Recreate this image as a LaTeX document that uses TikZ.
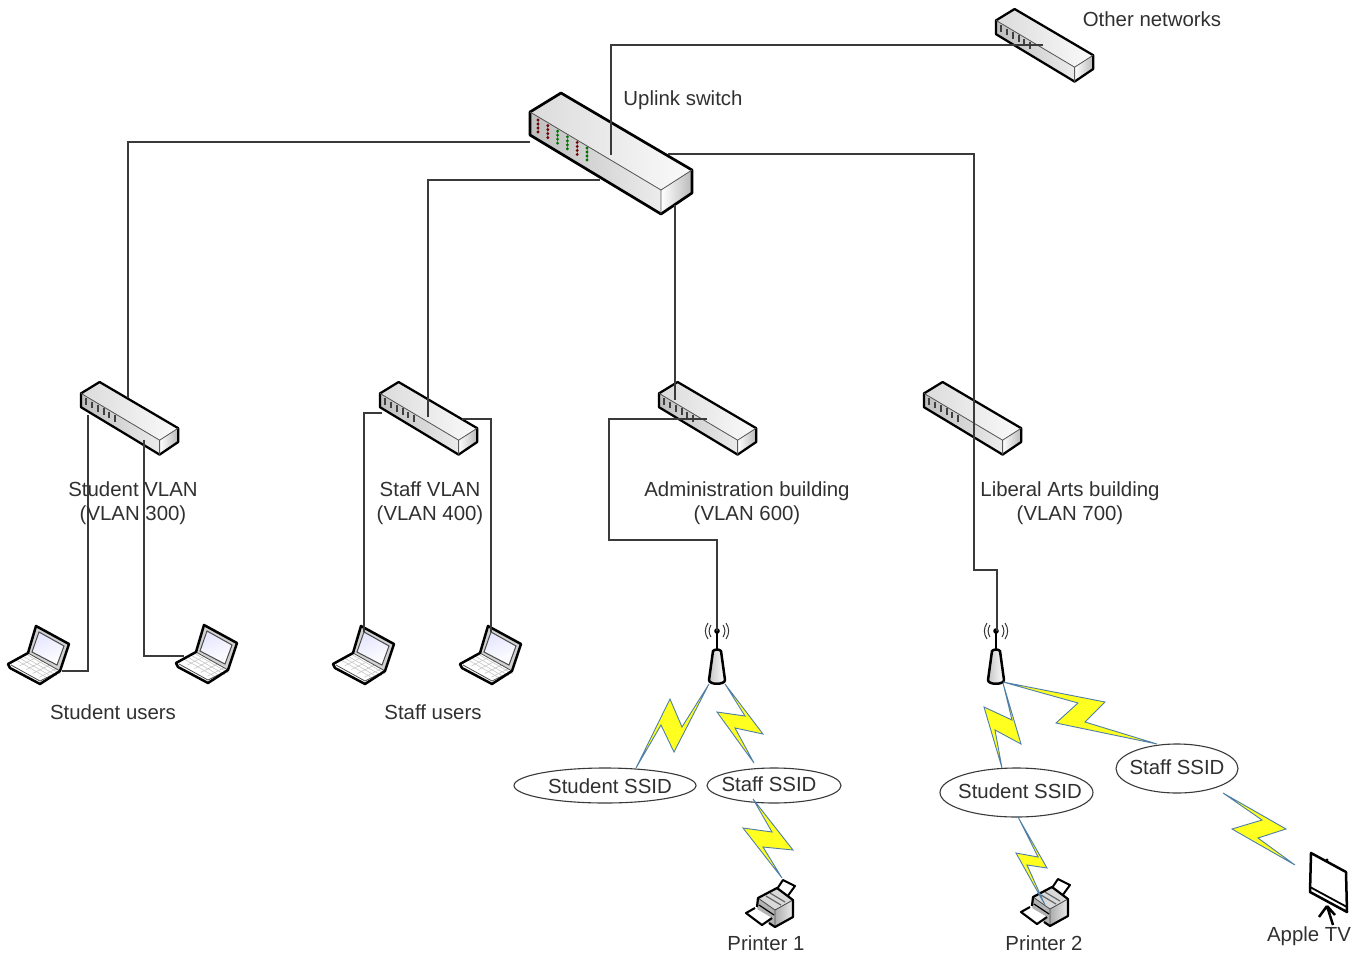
\documentclass[tikz,border=0pt]{standalone}
\usepackage{fontspec}
\setmainfont{Liberation Sans}
\usetikzlibrary{shapes.geometric,calc}
\definecolor{ink}{HTML}{3A3A3A}
\definecolor{txt}{HTML}{303030}
\definecolor{boltblue}{HTML}{4F7FA8}
\definecolor{boltyellow}{HTML}{FFFF20}
\tikzset{
  x=1pt,y=-1pt,
  link/.style={draw=ink,line width=1.25pt,line join=miter},
  lab/.style={font=\fontsize{20.4}{24}\selectfont,text=txt,align=center,inner sep=0pt},
  ssid/.style={draw=ink,line width=1.1pt,fill=white,ellipse,inner sep=0pt},
  boltstyle/.style={draw=boltblue,fill=boltyellow,line width=0.9pt,line join=miter},
  hw/.style={draw=black,line width=2.5pt,line join=round},
  hwthin/.style={draw=black!70,line width=.8pt},
}
\newcommand{\switchdev}[5]{% name, x, y, scale, colored(1)/dark(0)
  \begin{scope}[shift={(#2,#3)},x=#4pt,y=-#4pt]
    \fill[left color=gray!28,right color=gray!4] (0,19)--(31,0)--(162,77)--(131,97)--cycle;
    \fill[left color=gray!50,right color=gray!15] (0,19)--(131,97)--(131,121)--(0,42)--cycle;
    \fill[left color=white,right color=gray!55] (131,97)--(162,77)--(162,100)--(131,121)--cycle;
    \draw[hw,line width={1.6pt+1.1pt*#4}] (0,19)--(31,0)--(162,77)--(162,100)--(131,121)--(0,42)--cycle;
    \draw[draw=black!65,line width=.8pt] (0,19)--(131,97)--(162,77) (131,97)--(131,121);
    \ifnum#5=1
      \foreach \i/\c in {0/red!45!black,1/red!45!black,2/green!45!black,3/green!45!black,4/red!45!black,5/green!45!black}{
        \draw[black!45,line width=.8pt] ({8+\i*9.8},{27+\i*5.6})--++(0,12);
        \foreach \j in {0,4,8,12}
          \fill[\c] ({8+\i*9.8},{27+\i*5.6+\j}) circle (1.6);}
    \else
      \foreach \i in {0,...,5}
        \draw[black!75,line width=1.9pt] ({9+\i*9.6},{27+\i*5.6})--++(0,11);
    \fi
    \coordinate (#1) at (80,60);
  \end{scope}}
\newcommand{\laptopdev}[3]{%
  \begin{scope}[shift={(#2,#3)}]
    \fill[gray!35] (20,27)--(28,0)--(61,18)--(52,45)--cycle;
    \fill[left color=blue!10,right color=white,shading angle=20] (24,26)--(31,6)--(56,20)--(49,39)--cycle;
    \fill[white] (0,38)--(20,27)--(54,47)--(32,58)--cycle;
    \foreach \t in {.2,.4,.6,.8}{
      \draw[black!22,line width=.6pt] ($(5,36)!\t!(38,55)$)--($(23,27)!\t!(56,46)$);
      \draw[black!22,line width=.6pt] ($(5,36)!\t!(23,27)$)--($(38,55)!\t!(56,46)$);}
    \draw[hwthin,line width=1pt] (24,26)--(31,6)--(56,20)--(49,39)--cycle;
    \draw[black!70,line width=.8pt] (3,39)--(32,55)--(52,45) (20,27)--(52,45);
    \draw[hw] (20,27)--(28,0)--(61,18)--(52,45)--(32,58)--(2,42)--(0,38)--cycle;
    \coordinate (#1) at (30,35);
  \end{scope}}
\newcommand{\printerdev}[3]{%
  \begin{scope}[shift={(#2,#3)}]
    \fill[white] (30,12)--(38,0)--(50,6)--(42,17)--cycle;
    \draw[hw,line width=2pt] (30,12)--(38,0)--(50,6)--(42,17);
    \fill[gray!30] (13,18)--(32,8)--(48,20)--(30,30)--cycle;
    \fill[gray!60] (13,18)--(30,30)--(30,47)--(12,35)--cycle;
    \fill[left color=gray!65,right color=gray!15] (30,30)--(48,20)--(48,37)--(30,47)--cycle;
    \draw[black!60,line width=1.2pt] (21,16)--(36,25) (25,13)--(40,22);
    \draw[hwthin] (13,18)--(30,30)--(48,20) (30,30)--(30,47);
    \draw[black,line width=1.2pt] (14,25)--(29,35);
    \fill[white] (1,33)--(10,28)--(27,38)--(17,45)--cycle;
    \draw[hw,line width=2.1pt] (10,28)--(1,33)--(17,45)--(27,38);
    \draw[hw,line width=2.2pt] (12,27)--(13,18)--(32,8)--(48,20)--(48,37)--(30,47)--(24,43);
    \coordinate (#1) at (30,0);
  \end{scope}}
\newcommand{\apdev}[3]{%
  \begin{scope}[shift={(#2,#3)}]
    \draw[black!80,line width=1pt]
      (-6,-6) .. controls (-8.5,-2) and (-8.5,2) .. (-6,6)
      (6,-6) .. controls (8.5,-2) and (8.5,2) .. (6,6)
      (-9,-8) .. controls (-12.5,-3) and (-12.5,3) .. (-9,8)
      (9,-8) .. controls (12.5,-3) and (12.5,3) .. (9,8);
    \draw[black,line width=1.8pt] (0,0)--(0,19);
    \fill[black] (0,0) circle (2.8);
    \fill[left color=gray!45,right color=white] (-4,19)--(4,19)--(8,50)--(-8,50)--cycle;
    \draw[hw] (-4,20) .. controls (-2,18) and (2,18) .. (4,20)--(8,49)
      .. controls (8,54) and (-8,54) .. (-8,49)--cycle;
    \coordinate (#1) at (0,54);
  \end{scope}}
\newcommand{\boltlink}[6]{\draw[boltstyle] (#1)--(#2)--(#3)--(#4)--(#5)--(#6)--cycle;}
\begin{document}
\begin{tikzpicture}
\useasboundingbox (0,0) rectangle (1361,954);
\coordinate (up1) at (611,155);
\coordinate (up2) at (1043,45);
\coordinate (s1a) at (530,142);
\coordinate (s1b) at (128,398);
\coordinate (s2a) at (600,180);
\coordinate (s2b) at (428,417);
\coordinate (s3a) at (675,205);
\coordinate (s3b) at (675,400);
\coordinate (s4a) at (668,154);
\coordinate (s4b) at (997,631);

\switchdev{swother}{996}{9}{0.6}{0}
\switchdev{swup}{530}{93}{1}{1}
\switchdev{swstu}{81}{382}{0.6}{0}
\switchdev{swsta}{380}{382}{0.6}{0}
\switchdev{swadm}{659}{382}{0.6}{0}
\switchdev{swlib}{924}{382}{0.6}{0}
\laptopdev{lap1}{8}{626}
\laptopdev{lap2}{176}{625}
\laptopdev{lap3}{333}{626}
\laptopdev{lap4}{460}{626}
\printerdev{pr1}{745}{880}
\printerdev{pr2}{1020}{879}
\apdev{ap1}{717}{631}
\apdev{ap2}{996}{631}

% Apple TV screen
\draw[hw] (1311,853)--(1346,872)--(1347,912)--(1310,892)--cycle;
\draw[hw,line width=1.8pt] (1310,887)--(1347,907);
\fill[black] (1327,860) circle (1.6);
\coordinate (tv) at (1295,865);
\draw[black,line width=2.5pt] (1327,906)--(1319,917) (1327,906)--(1335,915) (1327,906)--(1333,925);

% wired connectors
\draw[link] (up2)--(611,45)--(up1);
\draw[link] (s1a)--(128,142)--(s1b);
\draw[link] (s2a)--(428,180)--(s2b);
\draw[link] (s3a)--(s3b);
\draw[link] (s4a)--(974,154)--(974,570)--(997,570)--(s4b);
\draw[link] (88,415)--(88,671)--(62,671);
\draw[link] (144,440)--(144,656)--(184,656);
\draw[link] (382,413)--(364,413)--(364,632);
\draw[link] (462,419)--(491,419)--(491,632);
\draw[link] (707,419)--(609,419)--(609,540)--(717,540)--(717,631);

% ellipses
\node[ssid,minimum width=182pt,minimum height=35pt] (e1) at (605,785.5) {};
\node[ssid,minimum width=134pt,minimum height=35pt] (e2) at (774,785.5) {};
\node[ssid,minimum width=153pt,minimum height=49pt] (e3) at (1016.5,792.5) {};
\node[ssid,minimum width=122pt,minimum height=49pt] (e4) at (1177,768.5) {};
\node[lab] (t1) at (610,786) {Student SSID};
\node[lab] (t2) at (769,784) {Staff SSID};
\node[lab] (t3) at (1020,791) {Student SSID};
\node[lab] (t4) at (1177,767) {Staff SSID};

% wireless links
\boltlink{709,684}{674,752}{661,725}{636,768}{670,699}{682,727}
\boltlink{725,684}{763,734}{735,728}{754,763}{717,712}{745,716}
\boltlink{753,799}{793,850}{763,847}{782,878}{743,828}{772,832}
\boltlink{1003,683}{1021,744}{995,730}{1002,768}{984,707}{1012,720}
\boltlink{1003,682}{1105,702}{1085,722}{1157,744}{1056,723}{1078,703}
\boltlink{1223,793}{1286,829}{1258,838}{1295,865}{1232,829}{1262,820}
\boltlink{1018,817}{1047,868}{1027,865}{1045,905}{1016,853}{1038,857}

% labels
\node[lab] (l0) at (1152,19.5) {Other networks};
\node[lab] (l1) at (683,100.5) {Uplink switch};
\node[lab] (l2) at (133,503) {Student VLAN\\(VLAN 300)};
\node[lab] (l3) at (430,503) {Staff VLAN\\(VLAN 400)};
\node[lab] (l4) at (747,503) {Administration building\\(VLAN 600)};
\node[lab] (l5) at (1070,503) {Liberal Arts building\\(VLAN 700)};
\node[lab] (l6) at (113,712) {Student users};
\node[lab] (l7) at (433,712) {Staff users};
\node[lab] (l8) at (766,943) {Printer 1};
\node[lab] (l9) at (1044,943) {Printer 2};
\node[lab] (l10) at (1309,936) {Apple TV};
\end{tikzpicture}
\end{document}
